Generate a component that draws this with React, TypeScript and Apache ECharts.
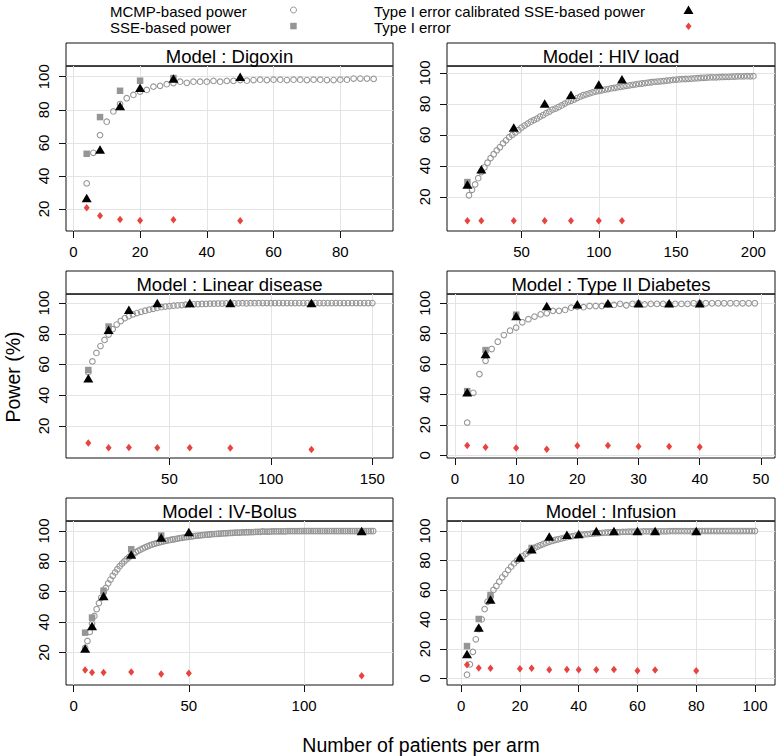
import React, { useEffect, useRef } from "react";
import * as echarts from "echarts";

const FONT = "'Liberation Sans', Arial, Helvetica, sans-serif";
const GRAY = "#959595";
const RED = "#e8433f";
const GRID_LINE = "#e4e4e4";

// ---------- Panel titles ----------
const panelTitles = [
  "Model : Digoxin",
  "Model : HIV load",
  "Model : Linear disease",
  "Model : Type II Diabetes",
  "Model : IV-Bolus",
  "Model : Infusion",
];

// ---------- Legend labels ----------
const legendLabels = [
  "MCMP-based power",
  "SSE-based power",
  "Type I error calibrated SSE-based power",
  "Type I error",
];
const xAxisTitle = "Number of patients per arm";
const yAxisTitle = "Power (%)";

// ---------- Digoxin ----------
const digoxinN = [4, 6, 8, 10, 12, 14, 16, 18, 20, 22, 24, 26, 28, 30, 32, 34, 36, 38, 40, 42, 44, 46, 48, 50, 52, 54, 56, 58, 60, 62, 64, 66, 68, 70, 72, 74, 76, 78, 80, 82, 84, 86, 88, 90];
const digoxinMcmp = [35.5, 54, 64.7, 72.8, 79, 83.5, 87, 89, 91, 92, 94, 94.5, 95.5, 96.2, 97, 96.3, 97, 97, 97, 97.5, 97, 97.5, 97.5, 98, 97.6, 98, 98.2, 98, 98.2, 98.2, 98, 98.2, 98.2, 98, 98.2, 98.2, 98, 98, 98.2, 98.2, 98.9, 98.9, 98.9, 98.7];
const digoxinSseN = [4, 8, 14, 20, 30];
const digoxinSse = [53.4, 75.6, 91.5, 97.6, 99.2];
const digoxinCalN = [4, 8, 14, 20, 30, 50];
const digoxinCal = [26.6, 56, 82.3, 93.3, 99, 100];
const digoxinErr = [20.8, 15.9, 13.7, 13.1, 13.5, 12.9];
const digoxinXTicks = [0, 20, 40, 60, 80];
const digoxinYTicks = [20, 40, 60, 80, 100];

// ---------- HIV load ----------
const hivN = [16, 18, 20, 22, 24, 26, 28, 30, 32, 34, 36, 38, 40, 42, 44, 46, 48, 50, 52, 54, 56, 58, 60, 62, 64, 66, 68, 70, 72, 74, 76, 78, 80, 82, 84, 86, 88, 90, 92, 94, 96, 98, 100, 102, 104, 106, 108, 110, 112, 114, 116, 118, 120, 122, 124, 126, 128, 130, 132, 134, 136, 138, 140, 142, 144, 146, 148, 150, 152, 154, 156, 158, 160, 162, 164, 166, 168, 170, 172, 174, 176, 178, 180, 182, 184, 186, 188, 190, 192, 194, 196, 198, 200];
const hivMcmp = [21, 24.5, 28, 32, 36, 39, 42, 45, 47.5, 50, 52, 54.5, 56.5, 58.5, 60, 61.5, 63, 64.7, 66, 67.3, 68.5, 69.5, 70.5, 71.8, 72.8, 74, 75, 76.3, 77, 78, 79, 80.2, 81.3, 82, 82.8, 83.8, 84.7, 85.6, 86.2, 86.8, 87.4, 88, 88.4, 88.8, 89.3, 89.6, 90, 90.3, 90.7, 91, 91.4, 91.7, 92, 92.3, 92.6, 93, 93.2, 93.5, 93.7, 94, 94.2, 94.4, 94.6, 94.8, 95, 95.2, 95.5, 95.7, 95.8, 96, 96.1, 96.2, 96.3, 96.5, 96.6, 96.8, 96.9, 97, 97.1, 97.2, 97.2, 97.3, 97.4, 97.5, 97.5, 97.6, 97.7, 97.8, 97.8, 97.8, 97.9, 97.8, 97.9];
const hivSseN = [15];
const hivSse = [29.5];
const hivCalN = [15, 24, 45, 65, 82, 100, 115];
const hivCal = [28, 37.8, 64.7, 80.2, 86, 92.5, 95.9];
const hivErr = [4.6, 4.5, 4.5, 4.5, 4.5, 4.5, 4.5];
const hivXTicks = [50, 100, 150, 200];
const hivYTicks = [20, 40, 60, 80, 100];

// ---------- Linear disease ----------
const linN = [10, 12, 14, 16, 18, 20, 22, 24, 26, 28, 30, 32, 34, 36, 38, 40, 42, 44, 46, 48, 50, 52, 54, 56, 58, 60, 62, 64, 66, 68, 70, 72, 74, 76, 78, 80, 82, 84, 86, 88, 90, 92, 94, 96, 98, 100, 102, 104, 106, 108, 110, 112, 114, 116, 118, 120, 122, 124, 126, 128, 130, 132, 134, 136, 138, 140, 142, 144, 146, 148, 150];
const linMcmp = [55, 62, 67.5, 72, 76, 79.5, 83, 86, 88.3, 90.2, 91.5, 92.6, 93.5, 94.3, 95, 95.7, 96.3, 96.8, 97.3, 97.7, 98, 98.3, 98.5, 98.7, 98.9, 99.1, 99.2, 99.3, 99.4, 99.5, 99.6, 99.6, 99.7, 99.7, 99.8, 99.8, 99.8, 99.8, 99.9, 99.8, 99.9, 99.9, 99.9, 100, 100, 99.9, 100, 100, 100, 100, 100, 100, 100, 100, 100, 100, 100, 100, 100, 100, 100, 100, 100, 100, 100, 100, 100, 100, 100, 100, 100];
const linSseN = [10, 20];
const linSse = [56.4, 84.7];
const linCalN = [10, 20, 30, 44, 60, 80, 120];
const linCal = [51, 82.6, 95.6, 100, 100, 100, 100];
const linErr = [8.9, 5.8, 6, 5.8, 5.8, 5.6, 4.7];
const linXTicks = [50, 100, 150];
const linYTicks = [20, 40, 60, 80, 100];

// ---------- Type II Diabetes ----------
const t2dN = [2, 3, 4, 5, 6, 7, 8, 9, 10, 11, 12, 13, 14, 15, 16, 17, 18, 19, 20, 21, 22, 23, 24, 25, 26, 27, 28, 29, 30, 31, 32, 33, 34, 35, 36, 37, 38, 39, 40, 41, 42, 43, 44, 45, 46, 47, 48, 49];
const t2dMcmp = [21.5, 41.1, 53.4, 62.2, 69.9, 74.7, 79.1, 82, 84, 87.5, 89.5, 91.2, 92.7, 93.4, 95, 95, 95.6, 97.1, 97.8, 97.4, 98.2, 98.2, 98.2, 99.3, 98.9, 99.6, 98.7, 99.6, 100, 99.3, 99.6, 99.6, 99.6, 99.6, 99.6, 99.6, 99.6, 100, 100, 100, 100, 100, 100, 100, 100, 100, 100, 100];
const t2dSseN = [2, 5, 10];
const t2dSse = [42.2, 69.2, 92.5];
const t2dCalN = [2, 5, 10, 15, 20, 25, 30, 35, 40];
const t2dCal = [41.5, 66.6, 91.6, 98.2, 99.3, 100, 100, 100, 100];
const t2dErr = [6.4, 5.3, 4.8, 4, 6.2, 6.4, 5.7, 5.7, 5.5];
const t2dXTicks = [0, 10, 20, 30, 40, 50];
const t2dYTicks = [0, 20, 40, 60, 80, 100];

// ---------- IV-Bolus ----------
const ivN = [5, 6, 7, 8, 9, 10, 11, 12, 13, 14, 15, 16, 17, 18, 19, 20, 21, 22, 23, 24, 25, 26, 27, 28, 29, 30, 31, 32, 33, 34, 35, 36, 37, 38, 39, 40, 41, 42, 43, 44, 45, 46, 47, 48, 49, 50, 51, 52, 53, 54, 55, 56, 57, 58, 59, 60, 61, 62, 63, 64, 65, 66, 67, 68, 69, 70, 71, 72, 73, 74, 75, 76, 77, 78, 79, 80, 81, 82, 83, 84, 85, 86, 87, 88, 89, 90, 91, 92, 93, 94, 95, 96, 97, 98, 99, 100, 101, 102, 103, 104, 105, 106, 107, 108, 109, 110, 111, 112, 113, 114, 115, 116, 117, 118, 119, 120, 121, 122, 123, 124, 125, 126, 127, 128, 129, 130];
const ivMcmp = [23, 27.5, 33.5, 39, 44, 48.5, 52.5, 56, 59.5, 62.5, 65.5, 68, 70.5, 72.7, 74.8, 76.8, 78.5, 80, 81.4, 82.7, 83.9, 85, 86, 86.9, 87.7, 88.5, 89.2, 89.9, 90.5, 91, 91.5, 92, 92.4, 92.8, 93.2, 93.5, 93.8, 94.1, 94.4, 94.7, 95, 95.3, 95.5, 95.8, 96, 96.2, 96.4, 96.6, 96.8, 97, 97.1, 97.3, 97.4, 97.6, 97.7, 97.9, 98, 98.1, 98.2, 98.3, 98.4, 98.5, 98.6, 98.7, 98.8, 98.9, 99, 99, 99.1, 99.1, 99.2, 99.2, 99.3, 99.3, 99.4, 99.4, 99.5, 99.8, 99.6, 99.6, 99.6, 99.7, 99.7, 99.7, 99.8, 99.8, 99.8, 99.8, 99.9, 99.9, 99.9, 99.9, 99.9, 99.9, 100, 100, 100, 100, 100, 100, 100, 100, 100, 100, 100, 100, 100, 100, 100, 100, 100, 100, 100, 100, 100, 100, 100, 100, 100, 100, 100, 100, 100, 100, 100, 100];
const ivSseN = [5, 8, 13, 25, 38];
const ivSse = [33, 42.9, 60.7, 88, 97];
const ivCalN = [5, 8, 13, 25, 38, 50, 125];
const ivCal = [22.6, 37.4, 57.1, 84.6, 95.8, 99.3, 100];
const ivErr = [8.4, 6.8, 6.8, 7, 5.7, 6.2, 4.6];
const ivXTicks = [0, 50, 100];
const ivYTicks = [20, 40, 60, 80, 100];

// ---------- Infusion ----------
const infN = [2, 3, 4, 5, 6, 7, 8, 9, 10, 11, 12, 13, 14, 15, 16, 17, 18, 19, 20, 21, 22, 23, 24, 25, 26, 27, 28, 29, 30, 31, 32, 33, 34, 35, 36, 37, 38, 39, 40, 41, 42, 43, 44, 45, 46, 47, 48, 49, 50, 51, 52, 53, 54, 55, 56, 57, 58, 59, 60, 61, 62, 63, 64, 65, 66, 67, 68, 69, 70, 71, 72, 73, 74, 75, 76, 77, 78, 79, 80, 81, 82, 83, 84, 85, 86, 87, 88, 89, 90, 91, 92, 93, 94, 95, 96, 97, 98, 99, 100];
const infMcmp = [2.5, 9.5, 18, 26.5, 33.5, 40, 47, 52, 55.4, 60, 62.7, 65.6, 68.6, 70.8, 73.5, 75.8, 78, 79.9, 81.5, 83, 84.5, 86, 87.3, 88.5, 89.5, 90.4, 91.2, 92, 92.7, 93.3, 93.9, 94.4, 94.9, 95.4, 95.8, 96.2, 96.6, 96.9, 97.2, 97.5, 97.7, 97.9, 98.1, 98.3, 98.5, 98.6, 98.8, 98.9, 99, 99.1, 99.2, 99.2, 99.3, 99.4, 99.4, 99.5, 99.5, 99.6, 99.6, 99.6, 99.7, 99.7, 99.7, 99.7, 99.8, 99.8, 99.8, 99.8, 99.8, 99.9, 99.9, 99.9, 99.9, 99.9, 99.9, 99.9, 99.9, 99.9, 99.9, 100, 100, 100, 100, 100, 100, 100, 100, 100, 100, 100, 100, 100, 100, 100, 100, 100, 100, 100, 100];
const infSseN = [2, 6, 10, 24];
const infSse = [21.9, 40.3, 56.6, 88.5];
const infCalN = [2, 6, 10, 20, 24, 30, 36, 40, 46, 52, 60, 66, 80];
const infCal = [16.5, 34.6, 53.6, 82.1, 87.6, 96.2, 97.5, 98, 100, 100, 100, 100, 100];
const infErr = [9.3, 7, 6.8, 6.6, 6.8, 5.9, 6.1, 5.9, 5.9, 6.1, 5.2, 5.7, 5.2];
const infXTicks = [0, 20, 40, 60, 80, 100];
const infYTicks = [0, 20, 40, 60, 80, 100];

// ---------- assemble panels from the named arrays ----------
const panelData = [
  { mcmpN: digoxinN, mcmp: digoxinMcmp, sseN: digoxinSseN, sse: digoxinSse, calN: digoxinCalN, cal: digoxinCal, err: digoxinErr, xTicks: digoxinXTicks, yTicks: digoxinYTicks },
  { mcmpN: hivN, mcmp: hivMcmp, sseN: hivSseN, sse: hivSse, calN: hivCalN, cal: hivCal, err: hivErr, xTicks: hivXTicks, yTicks: hivYTicks },
  { mcmpN: linN, mcmp: linMcmp, sseN: linSseN, sse: linSse, calN: linCalN, cal: linCal, err: linErr, xTicks: linXTicks, yTicks: linYTicks },
  { mcmpN: t2dN, mcmp: t2dMcmp, sseN: t2dSseN, sse: t2dSse, calN: t2dCalN, cal: t2dCal, err: t2dErr, xTicks: t2dXTicks, yTicks: t2dYTicks },
  { mcmpN: ivN, mcmp: ivMcmp, sseN: ivSseN, sse: ivSse, calN: ivCalN, cal: ivCal, err: ivErr, xTicks: ivXTicks, yTicks: ivYTicks },
  { mcmpN: infN, mcmp: infMcmp, sseN: infSseN, sse: infSse, calN: infCalN, cal: infCal, err: infErr, xTicks: infXTicks, yTicks: infYTicks },
];

// layout: pixel boxes and axis extents for each panel
const COL_LEFT = [66, 447];
const COL_WIDTH = [327, 328];
const ROW_TOP = [66, 294, 521];
const ROW_HEIGHT = [165, 164, 164];
const STRIP_H = 23;
const axisExtents = [
  { xMin: -2.2, xMax: 95.8, yMin: 6.7, yMax: 106.5 },
  { xMin: 1.8, xMax: 214, yMin: -2.1, yMax: 104.5 },
  { xMin: -1, xMax: 160.2, yMin: -0.9, yMax: 105.9 },
  { xMin: -1.3, xMax: 52.3, yMin: -1.8, yMax: 106.1 },
  { xMin: -3.3, xMax: 138.6, yMin: -1.5, yMax: 106.6 },
  { xMin: -4.8, xMax: 106.8, yMin: -4.5, yMax: 106.8 },
];

const zip = (xs: number[], ys: number[]) => xs.map((x, i) => [x, ys[i]]);

function buildOption() {
  const grids: any[] = [];
  const xAxes: any[] = [];
  const yAxes: any[] = [];
  const series: any[] = [];
  const graphics: any[] = [];

  panelData.forEach((p, i) => {
    const col = i % 2;
    const row = Math.floor(i / 2);
    const left = COL_LEFT[col];
    const width = COL_WIDTH[col];
    const top = ROW_TOP[row];
    const height = ROW_HEIGHT[row];
    const ext = axisExtents[i];

    grids.push({
      left,
      top,
      width,
      height,
      show: true,
      backgroundColor: "#fff",
      borderColor: "#111",
      borderWidth: 1,
      containLabel: false,
      outerBoundsMode: "none",
    });

    const labelStyle = { fontFamily: FONT, fontSize: 15, color: "#000" };

    xAxes.push({
      gridIndex: i,
      type: "value",
      min: ext.xMin,
      max: ext.xMax,
      position: "bottom",
      axisLine: { show: false, onZero: false },
      axisTick: { show: true, length: 7, lineStyle: { color: "#111", width: 1 }, customValues: p.xTicks },
      axisLabel: { ...labelStyle, margin: 13, customValues: p.xTicks },
      splitLine: { show: true, lineStyle: { color: GRID_LINE, width: 1 } },
    });
    yAxes.push({
      gridIndex: i,
      type: "value",
      min: ext.yMin,
      max: ext.yMax,
      position: "left",
      axisLine: { show: false, onZero: false },
      axisTick: { show: true, length: 7, lineStyle: { color: "#111", width: 1 }, customValues: p.yTicks },
      axisLabel: { ...labelStyle, rotate: 90, margin: 15, customValues: p.yTicks },
      splitLine: { show: true, lineStyle: { color: GRID_LINE, width: 1 } },
    });

    series.push(
      {
        name: legendLabels[0],
        type: "scatter",
        xAxisIndex: i,
        yAxisIndex: i,
        symbol: "circle",
        symbolSize: 5.6,
        itemStyle: { color: "rgba(0,0,0,0)", borderColor: GRAY, borderWidth: 1.1, opacity: 1 },
        data: zip(p.mcmpN, p.mcmp),
        silent: true,
      },
      {
        name: legendLabels[1],
        type: "scatter",
        xAxisIndex: i,
        yAxisIndex: i,
        symbol: "rect",
        symbolSize: 6.5,
        itemStyle: { color: GRAY, opacity: 1 },
        data: zip(p.sseN, p.sse),
        silent: true,
      },
      {
        name: legendLabels[2],
        type: "scatter",
        xAxisIndex: i,
        yAxisIndex: i,
        symbol: "triangle",
        symbolSize: [10, 8.5],
        itemStyle: { color: "#000", opacity: 1 },
        data: zip(p.calN, p.cal),
        silent: true,
      },
      {
        name: legendLabels[3],
        type: "scatter",
        xAxisIndex: i,
        yAxisIndex: i,
        symbol: "diamond",
        symbolSize: [6, 7.5],
        itemStyle: { color: RED, opacity: 1 },
        data: zip(p.calN, p.err),
        silent: true,
      }
    );

    // strip (panel title)
    graphics.push({
      type: "rect",
      shape: { x: left, y: top - STRIP_H, width, height: STRIP_H },
      style: { fill: "#fff", stroke: "#111", lineWidth: 1 },
      silent: true,
    });
    graphics.push({
      type: "line",
      shape: { x1: left, y1: top, x2: left + width, y2: top },
      style: { stroke: "#333", lineWidth: 1.5 },
      silent: true,
    });
    graphics.push({
      type: "text",
      x: left + width / 2,
      y: top - STRIP_H / 2 + 1.5,
      style: {
        text: panelTitles[i],
        fontFamily: FONT,
        fontSize: 18.5,
        fill: "#000",
        align: "center",
        verticalAlign: "middle",
      },
      silent: true,
    });
  });

  // legend (keys at top)
  const legendText = (text: string, x: number, y: number) => ({
    type: "text",
    x,
    y,
    style: { text, fontFamily: FONT, fontSize: 15, fill: "#000", align: "left", verticalAlign: "middle" },
    silent: true,
  });
  graphics.push(legendText(legendLabels[0], 110, 11));
  graphics.push(legendText(legendLabels[1], 110, 27.5));
  graphics.push(legendText(legendLabels[2], 374, 11));
  graphics.push(legendText(legendLabels[3], 374, 27.5));
  graphics.push({
    type: "circle",
    shape: { cx: 293.5, cy: 10, r: 3 },
    style: { fill: "none", stroke: GRAY, lineWidth: 1 },
    silent: true,
  });
  graphics.push({
    type: "rect",
    shape: { x: 290.2, y: 22.8, width: 6.5, height: 6.5 },
    style: { fill: GRAY },
    silent: true,
  });
  graphics.push({
    type: "polygon",
    shape: { points: [[688.5, 5.5], [683.5, 14], [693.5, 14]] },
    style: { fill: "#000" },
    silent: true,
  });
  graphics.push({
    type: "polygon",
    shape: { points: [[688.5, 22.5], [691.5, 26.3], [688.5, 30.1], [685.5, 26.3]] },
    style: { fill: RED },
    silent: true,
  });

  // axis titles
  graphics.push({
    type: "text",
    x: 421,
    y: 745,
    style: { text: xAxisTitle, fontFamily: FONT, fontSize: 19.5, fill: "#000", align: "center", verticalAlign: "middle" },
    silent: true,
  });
  graphics.push({
    type: "text",
    x: 13,
    y: 377,
    rotation: Math.PI / 2,
    style: { text: yAxisTitle, fontFamily: FONT, fontSize: 19.5, fill: "#000", align: "center", verticalAlign: "middle" },
    silent: true,
  });

  return {
    animation: false,
    backgroundColor: "#fff",
    textStyle: { fontFamily: FONT },
    grid: grids,
    xAxis: xAxes,
    yAxis: yAxes,
    series,
    graphic: { elements: graphics },
  };
}

export default function App() {
  const ref = useRef<HTMLDivElement>(null);
  useEffect(() => {
    if (!ref.current) return;
    const chart = echarts.init(ref.current, undefined, { renderer: "svg" });
    chart.setOption(buildOption() as any);
    return () => {
      chart.dispose();
    };
  }, []);
  return (
    <div
      ref={ref}
      style={{ position: "fixed", left: 0, top: 0, width: 777, height: 756, background: "#fff" }}
    />
  );
}
